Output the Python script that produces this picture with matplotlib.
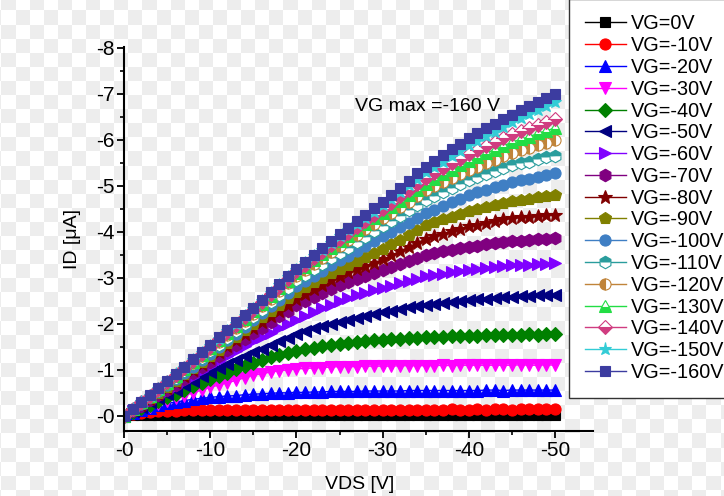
import numpy as np
import matplotlib.pyplot as plt
from matplotlib.ticker import MultipleLocator, FuncFormatter

plt.rcParams['font.family'] = ['Liberation Sans', 'DejaVu Sans']

# --- DATA: output curves, drain current magnitude |ID| in uA, VDS sweep 0 .. -50 V ---
vds = np.arange(0, -51, -1)

gate_labels = ['VG=0V', 'VG=-10V', 'VG=-20V', 'VG=-30V', 'VG=-40V', 'VG=-50V',
               'VG=-60V', 'VG=-70V', 'VG=-80V', 'VG=-90V', 'VG=-100V', 'VG=-110V',
               'VG=-120V', 'VG=-130V', 'VG=-140V', 'VG=-150V', 'VG=-160V']

id_vg0 = [0.00, 0.01, 0.01, 0.01, 0.01, 0.01, 0.01, 0.01, 0.01, 0.01, 0.01,
          0.01, 0.01, 0.01, 0.01, 0.01, 0.01, 0.01, 0.01, 0.01, 0.01,
          0.01, 0.01, 0.01, 0.01, 0.01, 0.01, 0.01, 0.01, 0.01, 0.01,
          0.01, 0.01, 0.01, 0.01, 0.01, 0.01, 0.01, 0.01, 0.01, 0.01,
          0.01, 0.01, 0.01, 0.01, 0.01, 0.01, 0.01, 0.01, 0.01, 0.01]
id_vg10 = [0.00, 0.04, 0.07, 0.09, 0.10, 0.11, 0.11, 0.12, 0.12, 0.12, 0.12,
           0.12, 0.12, 0.13, 0.13, 0.13, 0.13, 0.13, 0.13, 0.13, 0.13,
           0.13, 0.13, 0.13, 0.13, 0.13, 0.13, 0.13, 0.13, 0.13, 0.13,
           0.13, 0.13, 0.13, 0.13, 0.13, 0.13, 0.13, 0.14, 0.13, 0.13,
           0.14, 0.13, 0.14, 0.14, 0.13, 0.14, 0.14, 0.14, 0.14, 0.14]
id_vg20 = [0.00, 0.07, 0.13, 0.18, 0.23, 0.27, 0.30, 0.33, 0.36, 0.38, 0.40,
           0.42, 0.43, 0.44, 0.46, 0.47, 0.48, 0.49, 0.50, 0.50, 0.51,
           0.51, 0.52, 0.52, 0.53, 0.53, 0.53, 0.53, 0.54, 0.54, 0.54,
           0.54, 0.54, 0.55, 0.55, 0.55, 0.55, 0.55, 0.55, 0.55, 0.55,
           0.55, 0.56, 0.56, 0.55, 0.56, 0.56, 0.56, 0.56, 0.56, 0.56]
id_vg30 = [0.00, 0.07, 0.14, 0.20, 0.26, 0.32, 0.38, 0.44, 0.50, 0.56, 0.62,
           0.67, 0.72, 0.77, 0.83, 0.88, 0.92, 0.95, 0.98, 1.00, 1.02,
           1.03, 1.04, 1.05, 1.06, 1.07, 1.07, 1.07, 1.08, 1.08, 1.08,
           1.08, 1.09, 1.09, 1.09, 1.09, 1.09, 1.10, 1.09, 1.10, 1.10,
           1.10, 1.10, 1.10, 1.10, 1.10, 1.11, 1.10, 1.10, 1.11, 1.10]
id_vg40 = [0.00, 0.08, 0.16, 0.24, 0.32, 0.40, 0.48, 0.56, 0.64, 0.72, 0.80,
           0.87, 0.94, 1.01, 1.08, 1.15, 1.21, 1.27, 1.32, 1.37, 1.42,
           1.45, 1.48, 1.51, 1.54, 1.56, 1.58, 1.60, 1.62, 1.64, 1.65,
           1.66, 1.67, 1.69, 1.70, 1.71, 1.72, 1.72, 1.73, 1.73, 1.74,
           1.74, 1.75, 1.75, 1.76, 1.76, 1.76, 1.77, 1.76, 1.77, 1.77]
id_vg50 = [0.00, 0.10, 0.19, 0.29, 0.38, 0.48, 0.57, 0.67, 0.76, 0.86, 0.95,
           1.04, 1.13, 1.21, 1.30, 1.38, 1.46, 1.54, 1.62, 1.70, 1.78,
           1.84, 1.90, 1.95, 2.00, 2.05, 2.09, 2.13, 2.17, 2.21, 2.25,
           2.29, 2.32, 2.36, 2.39, 2.42, 2.44, 2.46, 2.48, 2.50, 2.52,
           2.54, 2.55, 2.56, 2.58, 2.59, 2.60, 2.61, 2.62, 2.62, 2.63]
id_vg60 = [0.00, 0.10, 0.21, 0.31, 0.42, 0.52, 0.63, 0.74, 0.85, 0.97, 1.08,
           1.19, 1.30, 1.41, 1.52, 1.62, 1.72, 1.81, 1.90, 1.99, 2.08,
           2.17, 2.26, 2.34, 2.42, 2.50, 2.56, 2.62, 2.68, 2.73, 2.78,
           2.83, 2.88, 2.93, 2.98, 3.03, 3.06, 3.09, 3.12, 3.15, 3.17,
           3.19, 3.21, 3.23, 3.25, 3.27, 3.28, 3.29, 3.30, 3.31, 3.32]
id_vg70 = [0.00, 0.11, 0.22, 0.34, 0.45, 0.56, 0.68, 0.81, 0.93, 1.06, 1.18,
           1.30, 1.43, 1.55, 1.68, 1.80, 1.92, 2.04, 2.16, 2.28, 2.40,
           2.49, 2.58, 2.67, 2.76, 2.85, 2.92, 2.98, 3.04, 3.11, 3.17,
           3.24, 3.30, 3.37, 3.43, 3.50, 3.54, 3.58, 3.61, 3.65, 3.68,
           3.70, 3.73, 3.75, 3.78, 3.80, 3.81, 3.83, 3.84, 3.85, 3.86]
id_vg80 = [0.00, 0.12, 0.24, 0.36, 0.48, 0.60, 0.73, 0.86, 0.99, 1.12, 1.25,
           1.38, 1.51, 1.64, 1.77, 1.90, 2.03, 2.16, 2.29, 2.42, 2.55,
           2.65, 2.75, 2.85, 2.95, 3.05, 3.12, 3.19, 3.26, 3.33, 3.40,
           3.49, 3.58, 3.67, 3.76, 3.85, 3.91, 3.96, 4.02, 4.07, 4.12,
           4.16, 4.20, 4.23, 4.27, 4.30, 4.32, 4.33, 4.35, 4.36, 4.37]
id_vg90 = [0.00, 0.13, 0.25, 0.38, 0.50, 0.63, 0.76, 0.90, 1.03, 1.17, 1.30,
           1.44, 1.58, 1.72, 1.86, 2.00, 2.14, 2.28, 2.42, 2.56, 2.70,
           2.80, 2.90, 3.00, 3.10, 3.20, 3.28, 3.37, 3.45, 3.54, 3.62,
           3.73, 3.83, 3.94, 4.04, 4.15, 4.21, 4.27, 4.33, 4.39, 4.45,
           4.49, 4.54, 4.58, 4.63, 4.67, 4.70, 4.72, 4.75, 4.77, 4.80]
id_vg100 = [0.00, 0.13, 0.26, 0.40, 0.53, 0.66, 0.80, 0.94, 1.07, 1.21, 1.35,
            1.50, 1.64, 1.79, 1.93, 2.08, 2.23, 2.38, 2.52, 2.67, 2.82,
            2.93, 3.04, 3.16, 3.27, 3.38, 3.48, 3.59, 3.69, 3.80, 3.90,
            4.00, 4.10, 4.20, 4.30, 4.40, 4.48, 4.56, 4.64, 4.72, 4.80,
            4.86, 4.91, 4.97, 5.02, 5.08, 5.12, 5.16, 5.20, 5.24, 5.28]
id_vg110 = [0.00, 0.14, 0.28, 0.41, 0.55, 0.69, 0.83, 0.97, 1.12, 1.26, 1.40,
            1.55, 1.70, 1.85, 2.00, 2.15, 2.31, 2.47, 2.63, 2.79, 2.95,
            3.07, 3.19, 3.31, 3.43, 3.55, 3.66, 3.78, 3.89, 4.01, 4.12,
            4.24, 4.35, 4.47, 4.58, 4.70, 4.78, 4.87, 4.95, 5.04, 5.12,
            5.19, 5.25, 5.32, 5.38, 5.45, 5.49, 5.53, 5.58, 5.62, 5.66]
id_vg120 = [0.00, 0.14, 0.28, 0.43, 0.57, 0.71, 0.86, 1.01, 1.15, 1.30, 1.45,
            1.60, 1.76, 1.91, 2.07, 2.22, 2.39, 2.55, 2.72, 2.88, 3.05,
            3.18, 3.31, 3.44, 3.57, 3.70, 3.82, 3.94, 4.06, 4.18, 4.30,
            4.42, 4.54, 4.66, 4.78, 4.90, 4.99, 5.08, 5.17, 5.26, 5.35,
            5.42, 5.50, 5.57, 5.65, 5.72, 5.78, 5.83, 5.89, 5.94, 6.00]
id_vg130 = [0.00, 0.14, 0.29, 0.43, 0.58, 0.72, 0.87, 1.02, 1.18, 1.33, 1.48,
            1.64, 1.80, 1.95, 2.11, 2.27, 2.44, 2.60, 2.77, 2.93, 3.10,
            3.24, 3.38, 3.52, 3.66, 3.80, 3.92, 4.05, 4.17, 4.30, 4.42,
            4.55, 4.67, 4.80, 4.92, 5.05, 5.15, 5.25, 5.35, 5.45, 5.55,
            5.63, 5.71, 5.79, 5.87, 5.95, 6.01, 6.07, 6.14, 6.20, 6.26]
id_vg140 = [0.00, 0.15, 0.29, 0.44, 0.58, 0.73, 0.88, 1.04, 1.19, 1.35, 1.50,
            1.66, 1.82, 1.98, 2.14, 2.30, 2.47, 2.64, 2.81, 2.98, 3.15,
            3.29, 3.43, 3.57, 3.71, 3.85, 3.98, 4.11, 4.24, 4.37, 4.50,
            4.63, 4.77, 4.90, 5.04, 5.17, 5.28, 5.38, 5.49, 5.59, 5.70,
            5.78, 5.87, 5.95, 6.04, 6.12, 6.19, 6.25, 6.32, 6.38, 6.45]
id_vg150 = [0.00, 0.15, 0.30, 0.44, 0.59, 0.74, 0.90, 1.05, 1.21, 1.36, 1.52,
            1.68, 1.84, 2.00, 2.16, 2.32, 2.49, 2.66, 2.84, 3.01, 3.18,
            3.32, 3.47, 3.61, 3.76, 3.90, 4.04, 4.17, 4.31, 4.44, 4.58,
            4.72, 4.87, 5.01, 5.16, 5.30, 5.42, 5.53, 5.65, 5.76, 5.88,
            5.98, 6.08, 6.18, 6.28, 6.38, 6.47, 6.56, 6.64, 6.73, 6.82]
id_vg160 = [0.00, 0.15, 0.30, 0.45, 0.60, 0.75, 0.91, 1.07, 1.23, 1.39, 1.55,
            1.71, 1.87, 2.03, 2.19, 2.35, 2.52, 2.69, 2.86, 3.03, 3.20,
            3.35, 3.50, 3.65, 3.80, 3.95, 4.09, 4.23, 4.37, 4.51, 4.65,
            4.80, 4.96, 5.11, 5.27, 5.42, 5.55, 5.67, 5.80, 5.92, 6.05,
            6.15, 6.25, 6.35, 6.45, 6.55, 6.64, 6.73, 6.82, 6.91, 7.00]

curves = [id_vg0, id_vg10, id_vg20, id_vg30, id_vg40, id_vg50, id_vg60, id_vg70,
          id_vg80, id_vg90, id_vg100, id_vg110, id_vg120, id_vg130, id_vg140,
          id_vg150, id_vg160]

# --- STYLE (Origin-like marker set) ---
colors = ['#000000', '#ff0000', '#0000ff', '#ff00ff', '#008000', '#000080',
          '#8000ff', '#800080', '#800000', '#808000', '#3f7fc4', '#2a9d9d',
          '#c0843a', '#22dd44', '#d03c80', '#33ccd6', '#3c3ca0']
markers = ['s', 'o', '^', 'v', 'D', '<', '>', 'h', '*', 'p', 'o', 'h',
           'o', '^', 'D', '*', 's']
fills = ['full'] * 11 + ['top', 'left', 'bottom', 'bottom', 'full', 'full']
msizes = [7.5, 8, 8.5, 8.5, 7.5, 8.5, 8.5, 9, 10, 9, 8, 9, 8, 8.5, 7.5, 9.5, 7.5]

# --- PLOT ---
fig = plt.figure(figsize=(7.24, 4.96), dpi=100)

# checkered backdrop
W, H, sq = 724, 496, 14.1
xx, yy = np.meshgrid(np.arange(W), np.arange(H))
cell = (np.floor((xx - 1) / sq) + np.floor((yy - 10) / sq)) % 2
bg = np.where(cell[..., None] == 1, 0.93, 1.0) * np.ones((H, W, 3))
fig.figimage(bg, xo=0, yo=0, origin='upper', zorder=-10)
fig.patch.set_alpha(0)

ax = fig.add_axes([124 / 724, 1 - 431 / 496, (593 - 124) / 724, (431 - 47) / 496])
ax.patch.set_alpha(0)

for vals, lab, c, m, fs, ms in zip(curves, gate_labels, colors, markers, fills, msizes):
    ax.plot(vds, -np.array(vals), color=c, lw=1, marker=m, markersize=ms,
            fillstyle=fs, markerfacecoloralt='white', markeredgecolor=c,
            markeredgewidth=0.8, label=lab)

ax.set_xlim(0, -54.4)
ax.set_ylim(0.33, -8.02)

for side in ['top', 'right']:
    ax.spines[side].set_visible(False)
for side in ['left', 'bottom']:
    ax.spines[side].set_linewidth(1.5)

ax.xaxis.set_major_locator(MultipleLocator(10))
ax.xaxis.set_minor_locator(MultipleLocator(5))
ax.yaxis.set_major_locator(MultipleLocator(1))
ax.yaxis.set_minor_locator(MultipleLocator(0.5))
neg = FuncFormatter(lambda v, p: f"-{abs(v):.0f}")
ax.xaxis.set_major_formatter(neg)
ax.yaxis.set_major_formatter(neg)
ax.tick_params(which='major', direction='out', length=5, width=1.3, labelsize=15, pad=2)
ax.tick_params(which='minor', direction='out', length=3, width=1.2)

ax.set_xlabel('VDS [V]', fontsize=14)
ax.set_ylabel('ID [μA]', fontsize=14)
ax.xaxis.set_label_coords(0.503, -0.14)
ax.xaxis.label.set_va('center')
ax.yaxis.set_label_coords(-0.109, 0.5)
ax.yaxis.label.set_va('center')

ax.text(-26.8, -6.72, 'VG max =-160 V', fontsize=14, ha='left', va='center')

# legend box runs off the right edge of the picture, as in the original
leg = fig.legend(loc='upper left', bbox_to_anchor=(569 / 724, 0.0, 0.35, 1.003),
                 mode='expand', fontsize=14.3,
                 frameon=True, fancybox=False, edgecolor='#333333', framealpha=1,
                 borderpad=0.8, labelspacing=0.14, handlelength=2.05,
                 handletextpad=0.26, borderaxespad=0)
leg.get_frame().set_linewidth(1.0)

fig.savefig('out.png', dpi=100)
